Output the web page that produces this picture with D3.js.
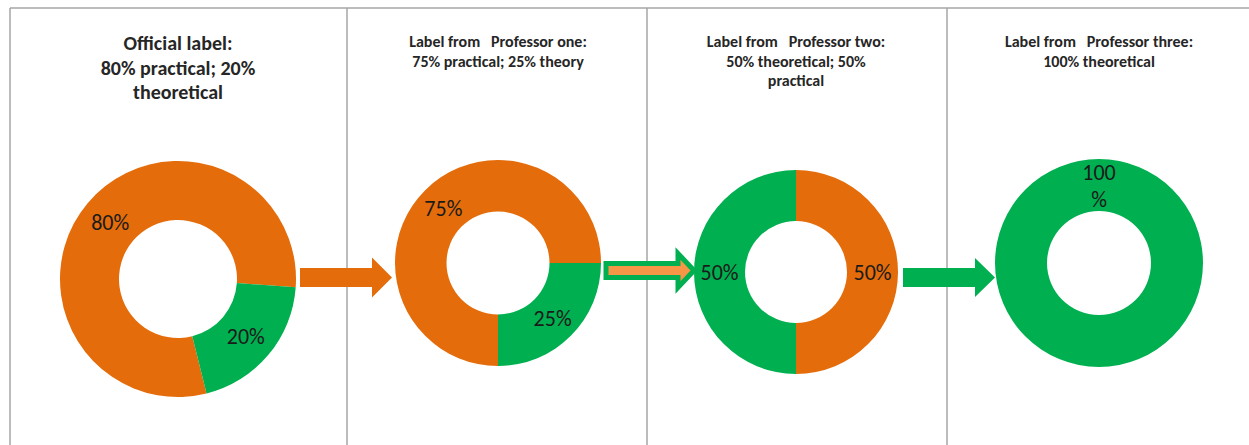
<!DOCTYPE html>
<html>
<head>
<meta charset="utf-8">
<script src="https://cdn.jsdelivr.net/npm/d3@7"></script>
<style>
  body { margin: 0; background: #fff; }
  svg { display: block; font-family: Carlito, Calibri, Lato, "Open Sans", sans-serif; }
</style>
</head>
<body>
<svg id="chart"></svg>
<script>
// chart data
var titles = [
  ["Official label:", "80% practical; 20%", "theoretical"],
  ["Label from   Professor one:", "75% practical; 25% theory"],
  ["Label from   Professor two:", "50% theoretical; 50%", "practical"],
  ["Label from   Professor three:", "100% theoretical"]
];
var categories = ["practical", "theoretical"];
var practical   = [80, 75, 50, 0];
var theoretical = [20, 25, 50, 100];

/*************** settings *****************/
var width = 1249,
    height = 445,
    lineColor = "#a6a6a6",
    dividers = [10, 347, 647, 947],
    topLine = 8,
    donutCx = [178, 498, 796, 1099],
    donutCy = [279, 263, 272, 263],
    donutR  = [118, 103, 102, 104],
    firstSliceAngle = [166, 180, 0, 0],   // degrees, like excel
    titleStyle = [
      {size: 20, y: 50, step: 24.5},
      {size: 16, y: 47, step: 19.5},
      {size: 16, y: 47, step: 19.5},
      {size: 16, y: 47, step: 19.5}
    ];

var color = d3.scaleOrdinal()
  .domain(categories)
  .range(["#E46C0A", "#00B050"]);

var svg = d3.select("#chart")
  .attr("width", width)
  .attr("height", height);

/*************** frame lines *****************/
svg.append("line")
  .attr("x1", dividers[0]).attr("x2", width)
  .attr("y1", topLine).attr("y2", topLine)
  .attr("stroke", lineColor).attr("stroke-width", 1.5);

svg.selectAll("line.divider")
  .data(dividers)
  .enter().append("line")
    .attr("class", "divider")
    .attr("x1", function(d) { return d; })
    .attr("x2", function(d) { return d; })
    .attr("y1", topLine).attr("y2", height)
    .attr("stroke", lineColor).attr("stroke-width", 1.5);

/*************** arrows (drawn before donuts) *****************/
// arrow: x0 start, x1 head start, x2 tip, cy center, bh body half height, hh head half height
function arrowPath(a) {
  return d3.line()([
    [a.x0, a.cy - a.bh], [a.x1, a.cy - a.bh], [a.x1, a.cy - a.hh], [a.x2, a.cy],
    [a.x1, a.cy + a.hh], [a.x1, a.cy + a.bh], [a.x0, a.cy + a.bh]
  ]) + "Z";
}

var arrows = [
  {x0: 300, x1: 372, x2: 392, cy: 277.5, bh: 9.5, hh: 20, fill: "#E46C0A", stroke: "none", sw: 0},
  {x0: 606, x1: 678, x2: 694, cy: 270.5, bh: 7, hh: 17, fill: "#F79646", stroke: "#00B050", sw: 5},
  {x0: 903, x1: 975, x2: 995, cy: 277.5, bh: 9.5, hh: 19.5, fill: "#00B050", stroke: "none", sw: 0}
];

svg.selectAll("path.arrow")
  .data(arrows)
  .enter().append("path")
    .attr("class", "arrow")
    .attr("d", arrowPath)
    .attr("fill", function(d) { return d.fill; })
    .attr("stroke", function(d) { return d.stroke; })
    .attr("stroke-width", function(d) { return d.sw; })
    .attr("stroke-linejoin", "miter");

/*************** donuts *****************/
var panels = titles.map(function(t, i) {
  return {
    title: t,
    values: [
      {cat: "practical", value: practical[i]},
      {cat: "theoretical", value: theoretical[i]}
    ],
    i: i
  };
});

var panel = svg.selectAll("g.panel")
  .data(panels)
  .enter().append("g")
    .attr("class", "panel");

// titles
panel.each(function(p) {
  var st = titleStyle[p.i];
  d3.select(this).append("text")
    .attr("text-anchor", "middle")
    .attr("font-weight", "bold")
    .attr("font-size", st.size)
    .attr("fill", "#262626")
    .style("white-space", "pre")
    .selectAll("tspan")
    .data(p.title)
    .enter().append("tspan")
      .attr("x", donutCx[p.i])
      .attr("y", function(d, j) { return st.y + j * st.step; })
      .text(function(d) { return d; });
});

panel.each(function(p) {
  var i = p.i;
  var a0 = firstSliceAngle[i] * Math.PI / 180;
  var pie = d3.pie()
    .sort(null)
    .value(function(d) { return d.value; })
    .startAngle(a0)
    .endAngle(a0 + 2 * Math.PI);

  var arc = d3.arc()
    .innerRadius(donutR[i] * 0.5)
    .outerRadius(donutR[i]);

  var g = d3.select(this).append("g")
    .attr("transform", "translate(" + donutCx[i] + "," + donutCy[i] + ")");

  var slices = pie(p.values).filter(function(d) { return d.value > 0; });

  g.selectAll("path")
    .data(slices)
    .enter().append("path")
      .attr("d", arc)
      .attr("fill", function(d) { return color(d.data.cat); });

  // data labels at the middle of the ring
  var rMid = donutR[i] * 0.75;
  var lbl = g.selectAll("text.lbl")
    .data(slices)
    .enter().append("text")
      .attr("class", "lbl")
      .attr("text-anchor", "middle")
      .attr("font-size", 22)
      .attr("fill", "#1a1a1a")
      .attr("transform", function(d) {
        var full = d.endAngle - d.startAngle > 2 * Math.PI - 1e-6;
        var ang = full ? d.startAngle : (d.startAngle + d.endAngle) / 2;
        return "translate(" + (rMid * Math.sin(ang)) + "," + (-rMid * Math.cos(ang)) + ")";
      });

  lbl.selectAll("tspan")
    .data(function(d) {
      // excel wraps the wide 100% label
      return d.value >= 100 ? [d.value, "%"] : [d.value + "%"];
    })
    .enter().append("tspan")
      .attr("x", 0)
      .attr("y", function(d, j, nodes) { return (j - (nodes.length - 1) / 2) * 27 + 8; })
      .text(function(d) { return d; });
});
</script>
</body>
</html>
